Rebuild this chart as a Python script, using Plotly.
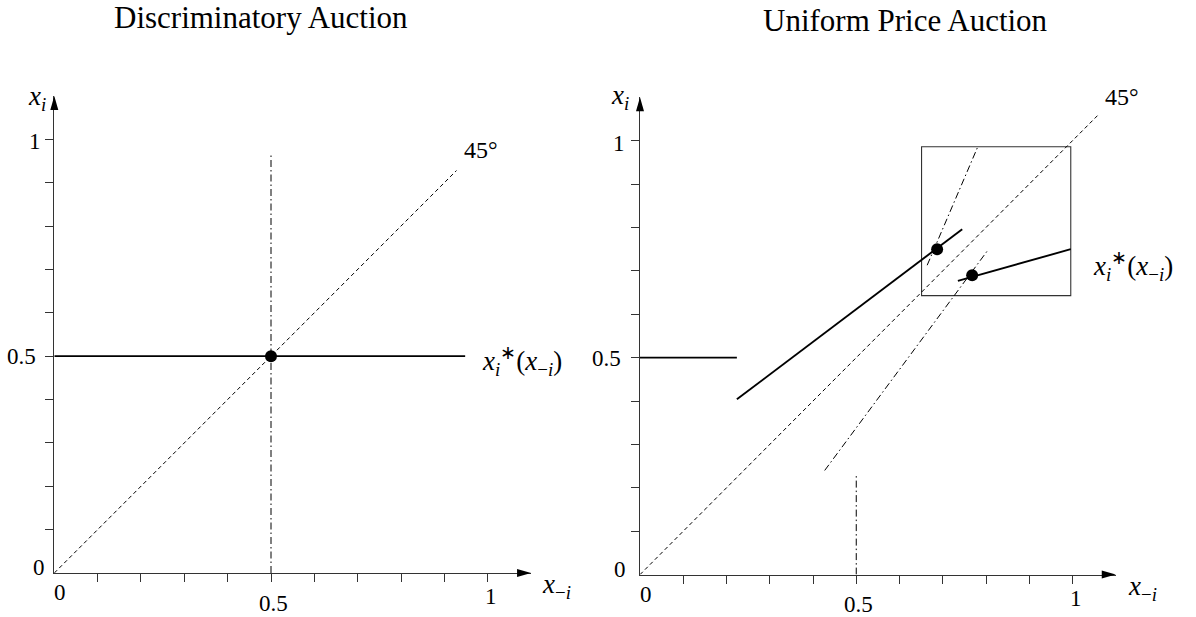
import plotly.graph_objects as go

W, H = 1196, 617

# ---------------- data ----------------
TICK_VALUES = [0.1, 0.2, 0.3, 0.4, 0.5, 0.6, 0.7, 0.8, 0.9, 1.0]
TICK_LABELS = ["0", "0.5", "1"]
AXIS_MAX = 1.1

# Discriminatory auction (left)
L_DIAG_X = [0.0, 0.928]
L_DIAG_Y = [0.0, 0.928]
L_BR_X = [0.0, 0.948]
L_BR_Y = [0.5, 0.5]
L_VLINE_X = [0.5, 0.5]
L_VLINE_Y = [0.0, 0.969]
L_EQ_X = [0.5]
L_EQ_Y = [0.5]

# Uniform price auction (right)
R_DIAG_X = [0.0, 1.062]
R_DIAG_Y = [0.0, 1.062]
R_BR1_X = [0.0, 0.224]
R_BR1_Y = [0.5, 0.5]
R_BR2_X = [0.224, 0.745]
R_BR2_Y = [0.404, 0.796]
R_BR3_X = [0.735, 0.996]
R_BR3_Y = [0.677, 0.750]
R_EQ_X = [0.687, 0.768]
R_EQ_Y = [0.750, 0.690]
R_DD1_X = [0.664, 0.781]
R_DD1_Y = [0.713, 0.986]
R_DD2_X = [0.427, 0.806]
R_DD2_Y = [0.240, 0.750]
R_VLINE_X = [0.5, 0.5]
R_VLINE_Y = [0.0, 0.230]
R_BOX_X = [0.651, 0.996]
R_BOX_Y = [0.643, 0.986]

TITLES = ["Discriminatory Auction", "Uniform Price Auction"]

# ---------------- layout geometry (pixels) ----------------
PANELS = {
    "left": dict(ox=54.3, oy=573.0, ux=433.4, uy=433.7),
    "right": dict(ox=640.0, oy=574.6, ux=432.5, uy=433.9),
}

SERIF = "Liberation Serif, Times New Roman, serif"
AXIS_COLOR = "#333333"
DASH = "4px,3px"
DASHDOT = "7px,3px,1.5px,3px"
MATH_SIZE = 27
TICK_SIZE = 23


def fx(p):
    return p / W


def fy(p):
    return 1 - p / H


fig = go.Figure()

axis_common = dict(
    range=[0, AXIS_MAX],
    showgrid=False,
    zeroline=False,
    showline=True,
    linecolor=AXIS_COLOR,
    linewidth=1.2,
    ticks="outside",
    ticklen=8,
    tickwidth=1.1,
    tickcolor=AXIS_COLOR,
    tickvals=TICK_VALUES,
    showticklabels=False,
    fixedrange=True,
)

layout_axes = {}
for i, key in enumerate(["left", "right"]):
    p = PANELS[key]
    sfx = "" if i == 0 else "2"
    xd = [fx(p["ox"]), fx(p["ox"] + AXIS_MAX * p["ux"])]
    yd = [fy(p["oy"]), fy(p["oy"] - AXIS_MAX * p["uy"])]
    layout_axes["xaxis" + sfx] = dict(domain=xd, anchor="y" + sfx, **axis_common)
    layout_axes["yaxis" + sfx] = dict(domain=yd, anchor="x" + sfx, **axis_common)


def line(x, y, xa, ya, width=1.9, dash="solid", color="black"):
    fig.add_trace(go.Scatter(x=x, y=y, mode="lines", xaxis=xa, yaxis=ya,
                             line=dict(color=color, width=width, dash=dash),
                             hoverinfo="skip", showlegend=False))


def dots(x, y, xa, ya):
    fig.add_trace(go.Scatter(x=x, y=y, mode="markers", xaxis=xa, yaxis=ya,
                             marker=dict(color="black", size=12,
                                         line=dict(width=0)),
                             hoverinfo="skip", showlegend=False))


# left panel
line(L_DIAG_X, L_DIAG_Y, "x", "y", width=1.0, dash=DASH)
line(L_VLINE_X, L_VLINE_Y, "x", "y", width=1.0, dash=DASHDOT)
line(L_BR_X, L_BR_Y, "x", "y")
dots(L_EQ_X, L_EQ_Y, "x", "y")

# right panel
line(R_DIAG_X, R_DIAG_Y, "x2", "y2", width=1.0, dash=DASH)
line(R_DD1_X, R_DD1_Y, "x2", "y2", width=1.0, dash=DASHDOT)
line(R_DD2_X, R_DD2_Y, "x2", "y2", width=1.0, dash=DASHDOT)
line(R_VLINE_X, R_VLINE_Y, "x2", "y2", width=1.0, dash=DASHDOT)
line(R_BR1_X, R_BR1_Y, "x2", "y2")
line(R_BR2_X, R_BR2_Y, "x2", "y2")
line(R_BR3_X, R_BR3_Y, "x2", "y2")
dots(R_EQ_X, R_EQ_Y, "x2", "y2")

shapes = [
    dict(type="rect", xref="x2", yref="y2",
         x0=R_BOX_X[0], x1=R_BOX_X[1], y0=R_BOX_Y[0], y1=R_BOX_Y[1],
         line=dict(color=AXIS_COLOR, width=1.1), layer="below"),
]

# axis arrowheads (paper coords derived from panel geometry)
AH_LEN, AH_HALF = 14, 4
for key in ["left", "right"]:
    p = PANELS[key]
    tipx = p["ox"] + AXIS_MAX * p["ux"]
    tipy = p["oy"] - AXIS_MAX * p["uy"]
    shapes.append(dict(
        type="path", xref="paper", yref="paper",
        path=(f"M {fx(tipx)},{fy(p['oy'])} L {fx(tipx - AH_LEN)},{fy(p['oy'] - AH_HALF)} "
              f"L {fx(tipx - AH_LEN)},{fy(p['oy'] + AH_HALF)} Z"),
        fillcolor="black", line=dict(width=0)))
    shapes.append(dict(
        type="path", xref="paper", yref="paper",
        path=(f"M {fx(p['ox'])},{fy(tipy)} L {fx(p['ox'] - AH_HALF)},{fy(tipy + AH_LEN)} "
              f"L {fx(p['ox'] + AH_HALF)},{fy(tipy + AH_LEN)} Z"),
        fillcolor="black", line=dict(width=0)))

annotations = []


def text(t, xp, yp, size=TICK_SIZE):
    annotations.append(dict(text=t, x=fx(xp), y=fy(yp), xref="paper", yref="paper",
                            showarrow=False, xanchor="center", yanchor="middle",
                            borderpad=0,
                            font=dict(family=SERIF, size=size, color="black")))


XI = "<i>x<sub>i</sub></i>"
XMI = "<i>x</i><sub>−<i>i</i></sub>"
XSTAR = "<i>x</i><sub><i>i</i></sub><sup>∗</sup>(<i>x</i><sub>−<i>i</i></sub>)"

# left labels
text(TITLES[0], 261, 17.5, size=31)
text(TICK_LABELS[2], 35, 142)
text(TICK_LABELS[1], 21.5, 356)
text(TICK_LABELS[0], 39.3, 567)
text(TICK_LABELS[0], 60, 592)
text(TICK_LABELS[1], 273.3, 603)
text(TICK_LABELS[2], 490.7, 596.3)
text(XI, 36.7, 98.3, size=MATH_SIZE)
text(XMI, 556.7, 586, size=MATH_SIZE)
text("45°", 481.4, 150.3, size=24)
text(XSTAR, 522, 361, size=MATH_SIZE)

# right labels
text(TITLES[1], 905, 21, size=31)
text(TICK_LABELS[2], 619, 143.5)
text(TICK_LABELS[1], 606, 358)
text(TICK_LABELS[0], 620, 569)
text(TICK_LABELS[0], 645.7, 594)
text(TICK_LABELS[1], 858.6, 604.5)
text(TICK_LABELS[2], 1075.5, 598)
text(XI, 619.7, 97, size=MATH_SIZE)
text(XMI, 1142, 587.5, size=MATH_SIZE)
text("45°", 1122, 97, size=24)
text(XSTAR, 1133.3, 265.5, size=MATH_SIZE)

fig.update_layout(
    width=W, height=H,
    margin=dict(l=0, r=0, t=0, b=0),
    paper_bgcolor="white", plot_bgcolor="white",
    font=dict(family=SERIF, size=TICK_SIZE, color="black"),
    showlegend=False,
    shapes=shapes,
    annotations=annotations,
    **layout_axes,
)

fig.write_html("out.html", config={"displayModeBar": False},
               post_script="document.body.style.margin='0';document.body.style.overflow='hidden';")
